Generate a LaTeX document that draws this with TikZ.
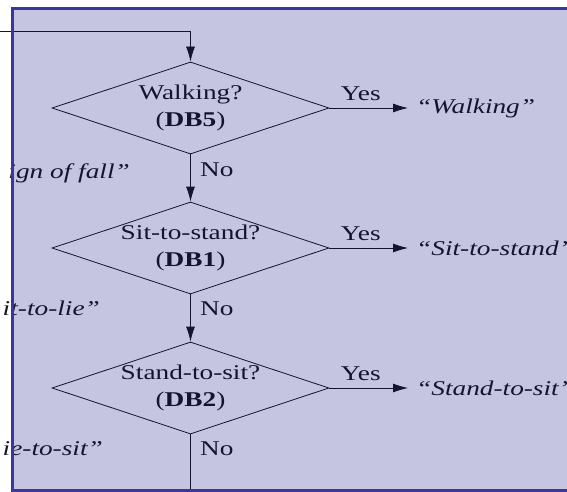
\documentclass[tikz,border=0pt]{standalone}
\usepackage{fontspec}
\setmainfont{Liberation Serif}[FakeStretch=1.3]
\usepackage{tikz}
\usetikzlibrary{shapes.geometric}
\usetikzlibrary{arrows.meta}
\usetikzlibrary{positioning}

\definecolor{panel}{RGB}{197,197,226}
\definecolor{rim}{RGB}{56,56,156}
\definecolor{ink}{RGB}{20,20,46}

\tikzset{
    every node/.style={font=\fontsize{21}{27}\selectfont, text=ink},
    decision/.style={diamond, draw=ink, line width=0.8pt, minimum width=277pt, minimum height=92pt, inner sep=0pt},
    query/.style={align=center, inner sep=0pt},
    flow/.style={draw=ink, line width=0.8pt, -{Latex[length=15pt, width=9pt]}},
    link/.style={draw=ink, line width=0.8pt},
    yeslbl/.style={above=4pt, pos=0.4},
    nolbl/.style={right=6pt},
    outcome/.style={anchor=west, inner xsep=8pt, font=\fontsize{21}{27}\selectfont\itshape},
    fragment/.style={anchor=base east, inner sep=0pt, font=\fontsize{21}{27}\selectfont\itshape},
    frame/.style={draw=rim, line width=3pt}
}

\begin{document}
\begin{tikzpicture}[x=1pt, y=-1pt]
    \useasboundingbox (0,0) rectangle (567,492);
    \clip (0,0) rectangle (567,492);

    \coordinate (Feed) at (0,31);
    \coordinate (Exit) at (190.5,494);

    % Panel
    \fill[panel] (12.5,8.5) rectangle (640,490.5);

    % Cut-off outcomes on the left
    \node[fragment] (fallres) at (130,178) {ign of fall”};
    \node[fragment] (liesres) at (100,315) {it-to-lie”};
    \node[fragment] (lsitres) at (103,455) {ie-to-sit”};

    % Decision #1
    \node[decision, label={[query]center:{Walking?\\(\textbf{DB5})}}] (walk) at (190.5,108) {};
    \node[outcome] (walkres) at (408,108) {“Walking”};

    % Decision #2
    \node[decision, label={[query]center:{Sit-to-stand?\\(\textbf{DB1})}}] (sts) at (190.5,248) {};
    \node[outcome] (stsres) at (408,248) {“Sit-to-stand”};

    % Decision #3
    \node[decision, label={[query]center:{Stand-to-sit?\\(\textbf{DB2})}}] (sit) at (190.5,388) {};
    \node[outcome] (sitres) at (408,388) {“Stand-to-sit”};

    % Flow
    \draw[flow] (Feed) -| (walk.north);
    \draw[flow] (walk.east) -- node[yeslbl] {Yes} (walkres.west);
    \draw[flow] (walk.south) -- node[nolbl, pos=0.33] {No} (sts.north);
    \draw[flow] (sts.east) -- node[yeslbl] {Yes} (stsres.west);
    \draw[flow] (sts.south) -- node[nolbl, pos=0.3] {No} (sit.north);
    \draw[flow] (sit.east) -- node[yeslbl] {Yes} (sitres.west);
    \draw[link] (sit.south) -- node[nolbl, pos=0.24] {No} (Exit);

    % Frame
    \draw[frame] (12.5,8.5) rectangle (640,490.5);

\end{tikzpicture}
\end{document}
